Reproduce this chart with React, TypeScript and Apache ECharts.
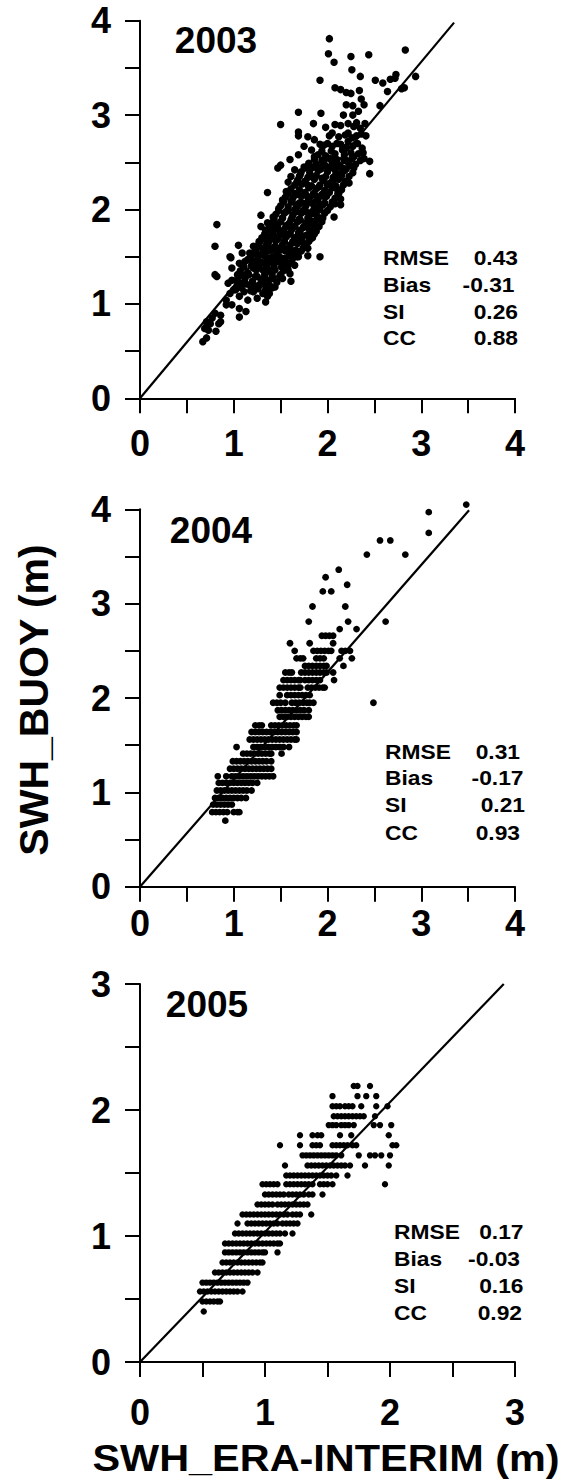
import React, { useEffect, useRef } from "react";
import * as echarts from "echarts";

const FONT = '"Liberation Sans", Arial, Helvetica, sans-serif';

const YEARS = ["2003", "2004", "2005"];
const X_MAX = [4, 4, 3];
const Y_MAX = [4, 4, 3];
const DIAG_END: [number, number][] = [[3.35, 3.98], [3.51, 3.99], [2.91, 3.0]];
const STAT_NAMES = ["RMSE", "Bias", "SI", "CC"];
const STATS_2003 = ["0.43", "-0.31", "0.26", "0.88"];
const STATS_2004 = ["0.31", "-0.17", "0.21", "0.93"];
const STATS_2005 = ["0.17", "-0.03", "0.16", "0.92"];
const X_TITLE = "SWH_ERA-INTERIM (m)";
const Y_TITLE = "SWH_BUOY (m)";

// 2003: [ERA-Interim, Buoy] – scattered points
const points2003: [number, number][] = [
  [2.02, 3.81], [2.01, 3.65], [2.07, 3.56], [2.25, 3.62], [2.44, 3.64], [2.83, 3.69], [2.26, 3.48], [2.35, 3.41],
  [1.92, 3.37], [2.51, 3.37], [2.59, 3.34], [2.67, 3.38], [2.73, 3.43], [2.72, 3.39], [2.94, 3.41], [2.64, 3.25],
  [2.79, 3.28], [2.82, 3.29], [2.56, 3.10], [2.08, 3.29], [2.14, 3.27], [2.20, 3.24], [2.25, 3.23], [2.34, 3.26],
  [2.36, 3.17], [2.20, 3.11], [2.27, 3.10], [2.39, 3.11], [2.33, 3.04], [2.17, 3.00], [2.27, 3.00], [1.69, 3.03],
  [1.93, 3.02], [1.50, 2.90], [1.85, 2.91], [1.98, 2.87], [2.22, 2.91], [2.31, 2.92], [2.35, 2.86], [2.14, 2.89],
  [1.69, 2.82], [2.05, 2.81], [2.22, 2.81], [2.41, 2.78], [2.31, 2.78], [1.69, 2.78], [1.79, 2.77], [1.86, 2.74],
  [1.92, 2.69], [2.00, 2.70], [2.10, 2.70], [2.22, 2.72], [2.27, 2.67], [2.37, 2.65], [1.75, 2.67], [1.83, 2.63],
  [1.94, 2.62], [2.04, 2.62], [2.16, 2.63], [2.25, 2.60], [2.38, 2.60], [1.60, 2.53], [1.69, 2.58], [1.86, 2.56],
  [2.06, 2.54], [2.20, 2.52], [2.35, 2.52], [2.45, 2.51], [2.39, 2.54], [2.45, 2.38], [1.50, 2.47], [1.47, 2.44],
  [1.65, 2.42], [1.75, 2.45], [1.83, 2.44], [1.91, 2.45], [1.98, 2.46], [2.08, 2.42], [2.16, 2.44], [2.24, 2.47],
  [2.14, 2.38], [2.23, 2.28], [2.06, 2.31], [1.94, 2.33], [1.83, 2.35], [1.71, 2.37], [1.61, 2.35], [1.58, 2.29],
  [1.67, 2.28], [1.79, 2.26], [1.91, 2.24], [2.00, 2.26], [2.10, 2.22], [2.12, 2.17], [1.36, 2.18], [1.56, 2.19],
  [1.65, 2.17], [1.77, 2.15], [1.87, 2.15], [1.96, 2.14], [2.14, 2.11], [1.52, 2.10], [1.62, 2.08], [1.73, 2.07],
  [1.83, 2.07], [1.92, 2.05], [2.08, 2.06], [2.14, 2.05], [1.91, 2.00], [1.48, 2.01], [1.58, 1.99], [1.67, 1.98],
  [1.77, 1.98], [1.85, 1.96], [2.07, 1.92], [1.29, 1.94], [1.42, 1.92], [1.52, 1.91], [1.62, 1.91], [1.71, 1.89],
  [1.81, 1.89], [1.91, 1.91], [1.36, 1.86], [1.46, 1.84], [1.56, 1.82], [1.65, 1.82], [1.75, 1.82], [1.83, 1.78],
  [1.29, 1.82], [1.40, 1.77], [1.50, 1.75], [1.60, 1.75], [1.69, 1.73], [1.79, 1.73], [1.81, 1.68], [1.33, 1.69],
  [1.44, 1.68], [1.54, 1.66], [1.63, 1.66], [1.73, 1.66], [1.27, 1.66], [1.21, 1.61], [1.31, 1.59], [1.40, 1.59],
  [1.50, 1.57], [1.60, 1.57], [1.69, 1.55], [1.79, 1.59], [1.79, 1.51], [1.92, 1.50], [1.69, 1.50], [1.17, 1.54],
  [1.25, 1.52], [1.34, 1.50], [1.44, 1.50], [1.54, 1.48], [1.63, 1.50], [1.09, 1.54], [1.15, 1.47], [1.23, 1.43],
  [1.33, 1.43], [1.42, 1.43], [1.52, 1.43], [1.65, 1.41], [1.06, 1.43], [1.11, 1.39], [1.21, 1.38], [1.31, 1.36],
  [1.40, 1.36], [1.50, 1.31], [1.60, 1.32], [1.58, 1.36], [0.98, 1.38], [0.97, 1.49], [1.05, 1.62], [1.04, 1.31],
  [1.13, 1.31], [1.23, 1.29], [1.33, 1.27], [1.42, 1.27], [1.61, 1.24], [0.98, 1.25], [1.07, 1.22], [1.17, 1.20],
  [1.27, 1.20], [1.36, 1.20], [1.44, 1.18], [0.94, 1.22], [1.02, 1.15], [1.11, 1.13], [1.21, 1.13], [1.31, 1.11],
  [1.38, 1.11], [0.96, 1.11], [1.06, 1.08], [1.15, 1.04], [1.25, 1.06], [1.34, 1.02], [0.92, 1.04], [1.36, 1.08],
  [0.92, 0.99], [0.98, 0.99], [1.06, 0.95], [1.13, 0.92], [1.06, 0.86], [0.80, 0.90], [0.86, 0.88], [0.77, 0.85],
  [0.71, 0.81], [0.75, 0.79], [0.69, 0.74], [0.71, 0.76], [0.73, 0.72], [0.86, 0.81], [0.84, 0.79], [0.81, 0.71],
  [0.67, 0.60], [0.71, 0.64], [0.82, 1.84], [0.80, 1.61], [0.80, 1.31], [0.82, 1.29], [0.96, 1.50],
];

// 2003: [ERA-Interim, Buoy] – points in the dense core of the cloud
const core2003: [number, number][] = [
  [1.00, 1.15], [1.08, 1.17], [1.18, 1.14], [1.26, 1.16], [1.34, 1.15], [1.41, 1.17],
  [1.03, 1.25], [1.12, 1.27], [1.20, 1.24], [1.29, 1.26], [1.37, 1.25], [1.46, 1.23], [1.52, 1.27],
  [1.07, 1.35], [1.15, 1.33], [1.24, 1.36], [1.35, 1.34], [1.44, 1.36], [1.53, 1.35],
  [1.12, 1.45], [1.20, 1.46], [1.29, 1.44], [1.38, 1.46], [1.47, 1.45], [1.56, 1.44], [1.62, 1.46],
  [1.22, 1.55], [1.30, 1.53], [1.36, 1.56], [1.46, 1.54], [1.55, 1.56], [1.64, 1.54], [1.72, 1.56],
  [1.26, 1.62], [1.35, 1.63], [1.44, 1.61], [1.52, 1.63], [1.60, 1.62], [1.68, 1.64], [1.76, 1.62],
  [1.30, 1.70], [1.38, 1.71], [1.47, 1.69], [1.56, 1.71], [1.65, 1.70], [1.74, 1.72], [1.84, 1.70],
  [1.34, 1.78], [1.44, 1.79], [1.53, 1.77], [1.62, 1.79], [1.71, 1.78], [1.80, 1.80], [1.88, 1.77],
  [1.41, 1.86], [1.50, 1.87], [1.59, 1.85], [1.68, 1.87], [1.77, 1.86], [1.86, 1.84], [1.94, 1.87],
  [1.45, 1.95], [1.54, 1.96], [1.63, 1.94], [1.72, 1.96], [1.82, 1.95], [1.89, 1.93], [1.97, 1.96],
  [1.50, 2.04], [1.58, 2.03], [1.67, 2.05], [1.77, 2.04], [1.86, 2.02], [1.95, 2.05], [2.03, 2.03],
  [1.55, 2.13], [1.63, 2.12], [1.72, 2.14], [1.81, 2.13], [1.90, 2.11], [1.99, 2.14], [2.08, 2.12],
  [1.61, 2.22], [1.70, 2.21], [1.80, 2.23], [1.88, 2.22], [1.97, 2.20], [2.05, 2.23], [2.15, 2.21],
  [1.68, 2.31], [1.76, 2.30], [1.86, 2.32], [1.96, 2.31], [2.04, 2.29], [2.12, 2.32], [2.19, 2.30],
  [1.72, 2.40], [1.81, 2.39], [1.90, 2.41], [2.00, 2.40], [2.09, 2.38], [2.18, 2.41], [2.27, 2.39],
  [1.80, 2.49], [1.88, 2.48], [1.96, 2.50], [2.05, 2.49], [2.13, 2.47], [2.22, 2.50], [2.30, 2.48],
  [1.90, 2.58], [1.98, 2.57], [2.08, 2.59], [2.18, 2.58], [2.28, 2.56], [2.33, 2.59],
  [1.96, 2.68], [2.05, 2.67], [2.14, 2.69], [2.20, 2.66], [2.32, 2.70],
  [2.02, 2.78], [2.12, 2.77], [2.19, 2.79], [2.26, 2.76], [2.36, 2.80],
  [2.08, 2.90], [2.28, 2.88], [2.40, 2.91],
  [1.04, 1.20], [1.13, 1.21], [1.22, 1.19], [1.30, 1.21], [1.38, 1.20],
  [1.08, 1.30], [1.16, 1.31], [1.25, 1.29], [1.33, 1.31], [1.41, 1.30], [1.49, 1.29],
  [1.10, 1.40], [1.19, 1.41], [1.27, 1.39], [1.35, 1.41], [1.43, 1.40], [1.51, 1.39], [1.58, 1.41],
  [1.18, 1.50], [1.26, 1.49], [1.33, 1.51], [1.41, 1.50], [1.50, 1.49], [1.59, 1.51], [1.67, 1.50],
  [1.24, 1.58], [1.31, 1.59], [1.40, 1.57], [1.48, 1.59], [1.57, 1.58], [1.66, 1.57], [1.74, 1.59],
  [1.28, 1.66], [1.37, 1.65], [1.45, 1.67], [1.54, 1.66], [1.63, 1.65], [1.71, 1.67], [1.80, 1.66],
  [1.33, 1.74], [1.42, 1.75], [1.51, 1.73], [1.60, 1.74], [1.69, 1.75], [1.78, 1.73], [1.86, 1.74],
  [1.38, 1.82], [1.47, 1.81], [1.56, 1.83], [1.65, 1.82], [1.74, 1.81], [1.83, 1.83], [1.91, 1.82],
  [1.43, 1.90], [1.52, 1.91], [1.61, 1.89], [1.70, 1.90], [1.79, 1.91], [1.88, 1.89], [1.95, 1.91],
  [1.48, 1.99], [1.56, 1.98], [1.65, 2.00], [1.74, 1.99], [1.84, 1.98], [1.92, 2.00], [2.00, 1.99],
  [1.53, 2.08], [1.61, 2.09], [1.70, 2.07], [1.79, 2.08], [1.88, 2.09], [1.97, 2.07], [2.05, 2.08],
  [1.58, 2.17], [1.67, 2.16], [1.76, 2.18], [1.85, 2.17], [1.94, 2.16], [2.02, 2.18], [2.11, 2.17],
  [1.65, 2.26], [1.73, 2.27], [1.83, 2.25], [1.92, 2.26], [2.01, 2.27], [2.09, 2.25], [2.17, 2.26],
  [1.70, 2.35], [1.79, 2.34], [1.88, 2.36], [1.98, 2.35], [2.06, 2.34], [2.15, 2.36], [2.23, 2.35],
  [1.76, 2.44], [1.85, 2.45], [1.93, 2.43], [2.02, 2.44], [2.11, 2.45], [2.20, 2.43], [2.28, 2.44],
  [1.86, 2.53], [1.94, 2.52], [2.02, 2.54], [2.10, 2.53], [2.18, 2.52], [2.26, 2.54],
];

// 2004: rows of [buoy level, ERA-Interim values]
const rows2004: [number, number[]][] = [
  [0.70, [0.91]],
  [0.79, [0.77, 0.81, 0.85, 0.89, 0.93, 1.00, 1.04, 1.06]],
  [0.87, [0.78, 0.82, 0.86, 0.90, 0.94, 0.98]],
  [0.94, [0.80, 0.84, 0.88, 0.92, 0.96, 1.00, 1.04, 1.08, 1.13]],
  [1.02, [0.82, 0.86, 0.90, 0.94, 0.98, 1.02, 1.06, 1.10, 1.14, 1.19]],
  [1.10, [0.84, 0.88, 0.92, 0.96, 1.00, 1.04, 1.08, 1.12, 1.16, 1.20, 1.25]],
  [1.17, [0.83, 0.92, 0.98, 1.02, 1.06, 1.10, 1.14, 1.18, 1.22, 1.26, 1.30, 1.34, 1.38, 1.42]],
  [1.25, [0.96, 1.00, 1.04, 1.08, 1.12, 1.16, 1.20, 1.24, 1.28, 1.32, 1.36, 1.40]],
  [1.33, [0.99, 1.03, 1.07, 1.11, 1.15, 1.19, 1.23, 1.27, 1.31, 1.35, 1.40]],
  [1.41, [1.10, 1.14, 1.18, 1.22, 1.26, 1.30, 1.34, 1.38, 1.40, 1.51]],
  [1.48, [1.03, 1.21, 1.25, 1.29, 1.33, 1.37, 1.41, 1.45, 1.49, 1.53, 1.59]],
  [1.56, [1.17, 1.21, 1.25, 1.29, 1.33, 1.37, 1.41, 1.45, 1.49, 1.53, 1.57, 1.61, 1.65, 1.67]],
  [1.64, [1.19, 1.23, 1.27, 1.31, 1.35, 1.39, 1.43, 1.47, 1.51, 1.55, 1.59, 1.63, 1.67]],
  [1.71, [1.23, 1.27, 1.30, 1.40, 1.44, 1.48, 1.52, 1.56, 1.60, 1.64, 1.67]],
  [1.80, [1.49, 1.53, 1.57, 1.61, 1.65, 1.69, 1.73, 1.77, 1.80]],
  [1.87, [1.47, 1.51, 1.55, 1.59, 1.63, 1.67, 1.71, 1.75, 1.80]],
  [1.95, [1.42, 1.46, 1.50, 1.55, 1.62, 1.66, 1.70, 1.74, 1.78, 1.81, 1.85, 2.49]],
  [2.03, [1.49, 1.57, 1.61, 1.65, 1.69, 1.73, 1.77, 1.81]],
  [2.11, [1.49, 1.53, 1.57, 1.61, 1.65, 1.69, 1.71, 1.79, 1.83, 1.87, 1.91, 1.95, 1.97]],
  [2.19, [1.53, 1.57, 1.61, 1.65, 1.69, 1.71, 1.76, 1.80, 1.84, 1.88, 1.92, 2.07]],
  [2.27, [1.55, 1.59, 1.62, 1.72, 1.76, 1.80, 1.84, 1.88, 1.92, 1.96, 1.99, 2.06]],
  [2.34, [1.76, 1.80, 1.84, 1.88, 1.92, 1.96, 1.99, 2.17]],
  [2.42, [1.67, 1.71, 1.74, 1.88, 1.92, 1.96, 2.13, 2.26]],
  [2.50, [1.65, 1.85, 1.89, 1.93, 1.97, 2.01, 2.04, 2.15, 2.19, 2.24]],
  [2.58, [1.60, 1.81, 2.06]],
  [2.66, [1.94, 1.98, 2.02, 2.06]],
  [2.73, [2.13, 2.31]],
  [2.81, [1.80, 2.22, 2.62]],
  [2.97, [1.84, 2.19]],
  [3.13, [1.95, 2.04]],
  [3.20, [2.21]],
  [3.28, [1.98]],
  [3.36, [2.12]],
  [3.52, [2.42, 2.83]],
  [3.67, [2.56, 2.67]],
  [3.75, [3.08]],
  [3.97, [3.08]],
  [4.05, [3.48]],
];

// 2005: rows of [buoy level, ERA-Interim values]
const rows2005: [number, number[]][] = [
  [0.40, [0.51]],
  [0.48, [0.50, 0.53, 0.56, 0.59, 0.62, 0.64]],
  [0.56, [0.48, 0.51, 0.54, 0.57, 0.60, 0.63, 0.66, 0.69, 0.72, 0.75, 0.78, 0.82]],
  [0.63, [0.50, 0.53, 0.56, 0.59, 0.62, 0.65, 0.68, 0.71, 0.74, 0.77, 0.80, 0.83, 0.86]],
  [0.71, [0.60, 0.63, 0.66, 0.69, 0.72, 0.75, 0.78, 0.81, 0.84, 0.87, 0.90, 0.94]],
  [0.79, [0.66, 0.69, 0.72, 0.75, 0.78, 0.81, 0.84, 0.87, 0.90, 0.93, 0.96, 0.98]],
  [0.87, [0.68, 0.71, 0.74, 0.77, 0.80, 0.83, 0.86, 0.89, 0.92, 0.95, 0.98, 1.00, 1.10]],
  [0.94, [0.68, 0.71, 0.74, 0.77, 0.80, 0.83, 0.86, 0.89, 0.92, 0.95, 0.98, 1.01, 1.04, 1.07, 1.10, 1.12]],
  [1.02, [0.76, 0.79, 0.82, 0.85, 0.88, 0.91, 0.94, 0.97, 1.00, 1.03, 1.06, 1.09, 1.12, 1.16, 1.22]],
  [1.10, [0.78, 0.86, 0.89, 0.92, 0.95, 0.98, 1.01, 1.04, 1.07, 1.10, 1.14, 1.17, 1.20, 1.23, 1.26]],
  [1.17, [0.82, 0.85, 0.88, 0.91, 0.94, 0.97, 1.00, 1.03, 1.06, 1.09, 1.12, 1.15, 1.18, 1.22, 1.25, 1.28, 1.37]],
  [1.25, [0.94, 0.97, 1.00, 1.03, 1.06, 1.10, 1.13, 1.16, 1.19, 1.22, 1.25, 1.28, 1.31, 1.34]],
  [1.33, [1.00, 1.03, 1.06, 1.09, 1.12, 1.15, 1.19, 1.22, 1.25, 1.28, 1.31, 1.35, 1.38, 1.46]],
  [1.41, [0.98, 1.01, 1.04, 1.07, 1.10, 1.17, 1.20, 1.23, 1.26, 1.29, 1.32, 1.35, 1.38, 1.44, 1.47, 1.50, 1.54, 1.96]],
  [1.48, [1.17, 1.20, 1.23, 1.26, 1.29, 1.32, 1.35, 1.38, 1.41, 1.44, 1.47, 1.50, 1.53, 1.57, 1.66]],
  [1.56, [1.16, 1.34, 1.37, 1.40, 1.43, 1.46, 1.49, 1.52, 1.55, 1.58, 1.61, 1.64, 1.68, 1.80, 1.99]],
  [1.64, [1.30, 1.33, 1.36, 1.39, 1.42, 1.45, 1.48, 1.51, 1.54, 1.57, 1.61, 1.75, 1.84, 1.88, 1.93, 2.00]],
  [1.72, [1.12, 1.28, 1.38, 1.41, 1.44, 1.54, 1.57, 1.60, 1.63, 1.66, 1.70, 1.73, 2.02, 2.05]],
  [1.80, [1.28, 1.38, 1.42, 1.45, 1.60, 1.69, 1.99]],
  [1.88, [1.51, 1.54, 1.57, 1.61, 1.64, 1.67, 1.71, 1.87, 1.92, 2.01]],
  [1.95, [1.55, 1.58, 1.61, 1.64, 1.67, 1.70, 1.73, 1.76, 1.79, 1.88]],
  [2.03, [1.54, 1.57, 1.60, 1.64, 1.67, 1.70, 1.77, 1.89, 1.98]],
  [2.11, [1.54, 1.74, 1.81, 1.89]],
  [2.19, [1.71, 1.74, 1.84]],
];

const flattenRows = (rows: [number, number[]][]): [number, number][] =>
  rows.flatMap(([y, xs]) => xs.map((x) => [x, y] as [number, number]));

const PANEL_POINTS = [[...points2003, ...core2003], flattenRows(rows2004), flattenRows(rows2005)];
const PANEL_STATS = [STATS_2003, STATS_2004, STATS_2005];

// layout (pixels)
const GRIDS = [
  { left: 140, top: 20.7, width: 375, height: 377.6 },
  { left: 140, top: 509.3, width: 375, height: 377.4 },
  { left: 140, top: 984, width: 375, height: 378 },
];
const X_LABEL_MARGIN = [27, 19, 32];
const SYMBOL_SIZE = [7.5, 6.8, 6.4];
const YEAR_POS = [[216, 40], [211, 530.5], [207, 1004.5]];
const STAT_LEFT = [383, 385, 394];
const STAT_RIGHT = [[518, 514.5, 518, 518], [520, 523.5, 525, 520], [523.5, 520, 523.5, 522]];
const STAT_ROWS = [[258, 285, 312, 338], [752, 778, 805, 833], [1232, 1259, 1286, 1313]];

export default function App() {
  const ref = useRef<HTMLDivElement>(null);

  useEffect(() => {
    if (!ref.current) return;
    const chart = echarts.init(ref.current, undefined, { renderer: "svg" });

    const labelStyle = {
      fontSize: 36,
      fontWeight: "bold" as const,
      fontFamily: FONT,
      color: "#000",
    };
    const intFmt = (v: number) => (Math.abs(v - Math.round(v)) < 1e-9 ? String(Math.round(v)) : "");

    const xAxes = GRIDS.map((_, i) => ({
      type: "value" as const,
      gridIndex: i,
      min: 0,
      max: X_MAX[i],
      interval: 0.5,
      axisLine: { show: true, onZero: false, lineStyle: { color: "#000", width: 2 } },
      axisTick: { show: true, inside: false, length: 15, lineStyle: { color: "#000", width: 2 } },
      axisLabel: { ...labelStyle, margin: X_LABEL_MARGIN[i], formatter: intFmt },
      splitLine: { show: false },
    }));
    const yAxes = GRIDS.map((_, i) => ({
      type: "value" as const,
      gridIndex: i,
      min: 0,
      max: Y_MAX[i],
      interval: 0.5,
      axisLine: { show: true, onZero: false, lineStyle: { color: "#000", width: 2 } },
      axisTick: { show: true, inside: false, length: 15, lineStyle: { color: "#000", width: 2 } },
      axisLabel: { ...labelStyle, margin: 29, formatter: intFmt },
      splitLine: { show: false },
    }));

    const series: any[] = [];
    GRIDS.forEach((_, i) => {
      series.push({
        type: "line",
        xAxisIndex: i,
        yAxisIndex: i,
        data: [[0, 0], DIAG_END[i]],
        symbol: "none",
        lineStyle: { color: "#000", width: 2.2 },
        silent: true,
        z: 2,
      });
      series.push({
        type: "scatter",
        xAxisIndex: i,
        yAxisIndex: i,
        data: PANEL_POINTS[i],
        symbol: "circle",
        symbolSize: SYMBOL_SIZE[i],
        itemStyle: { color: "#000", opacity: 1 },
        clip: false,
        z: 3,
      });
    });

    const graphics: any[] = [];
    YEARS.forEach((yr, i) => {
      graphics.push({
        type: "text",
        x: YEAR_POS[i][0],
        y: YEAR_POS[i][1],
        z: 100,
        style: { text: yr, align: "center", verticalAlign: "middle", fontSize: 37, fontWeight: "bold", fontFamily: FONT, fill: "#000" },
      });
      STAT_NAMES.forEach((name, r) => {
        graphics.push({
          type: "text",
          x: STAT_LEFT[i],
          y: STAT_ROWS[i][r],
          scaleX: 1.14,
          z: 100,
          style: { text: name, align: "left", verticalAlign: "middle", fontSize: 20, fontWeight: "bold", fontFamily: FONT, fill: "#000" },
        });
        graphics.push({
          type: "text",
          x: STAT_RIGHT[i][r],
          y: STAT_ROWS[i][r],
          scaleX: 1.14,
          z: 100,
          style: { text: PANEL_STATS[i][r], align: "right", verticalAlign: "middle", fontSize: 20, fontWeight: "bold", fontFamily: FONT, fill: "#000" },
        });
      });
    });
    graphics.push({
      type: "text",
      x: 326,
      y: 1458,
      scaleX: 1.12,
      z: 100,
      style: { text: X_TITLE, align: "center", verticalAlign: "middle", fontSize: 37, fontWeight: "bold", fontFamily: FONT, fill: "#000" },
    });
    graphics.push({
      type: "text",
      x: 34,
      y: 700,
      rotation: Math.PI / 2,
      z: 100,
      style: { text: Y_TITLE, align: "center", verticalAlign: "middle", fontSize: 41, fontWeight: "bold", fontFamily: FONT, fill: "#000" },
    });

    chart.setOption({
      animation: false,
      backgroundColor: "#fff",
      grid: GRIDS.map((g) => ({ ...g, containLabel: false })),
      xAxis: xAxes,
      yAxis: yAxes,
      series,
      graphic: graphics,
    });

    return () => chart.dispose();
  }, []);

  return (
    <div
      ref={ref}
      style={{ position: "absolute", left: 0, top: 0, width: 565, height: 1483, background: "#fff" }}
    />
  );
}
